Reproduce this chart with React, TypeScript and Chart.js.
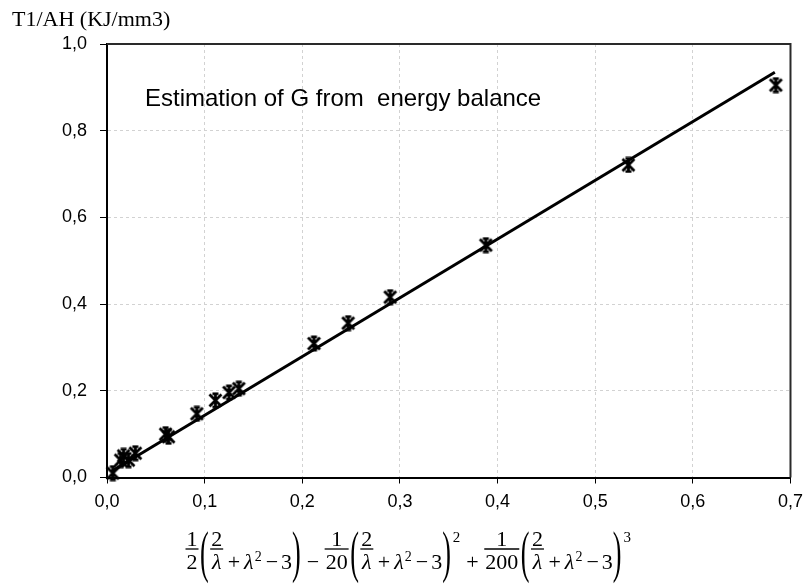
import { useEffect, useRef } from "react";
import { Chart, registerables } from "chart.js";

Chart.register(...registerables);

// Measured points: energy term (x) vs T1/AH (y)
const energyTerm = [0.006, 0.014, 0.017, 0.022, 0.029, 0.060, 0.063, 0.092, 0.111, 0.125, 0.135, 0.212, 0.247, 0.290, 0.388, 0.534, 0.685];
const workPerVolume = [0.010, 0.040, 0.050, 0.040, 0.056, 0.100, 0.094, 0.147, 0.178, 0.196, 0.205, 0.309, 0.356, 0.416, 0.536, 0.721, 0.905];

// Straight-line fit, end points
const fitX = [0.006, 0.684];
const fitY = [0.016, 0.935];

const xTicks = [0, 0.1, 0.2, 0.3, 0.4, 0.5, 0.6, 0.7];
const yTicks = [0, 0.2, 0.4, 0.6, 0.8, 1.0];

const yAxisTitle = "T1/AH (KJ/mm3)";
const noteText = "Estimation of G from  energy balance";

const SANS = "'Liberation Sans', Arial, sans-serif";
const SERIF = "'Liberation Serif', 'Times New Roman', serif";

const fmt = (v: number) => v.toFixed(1).replace(".", ",");

// Asterisk marker: X, vertical stroke and short caps
function makeStar(): HTMLCanvasElement {
  const c = document.createElement("canvas");
  c.width = 17;
  c.height = 17;
  const g = c.getContext("2d")!;
  g.strokeStyle = "#000";
  g.lineWidth = 2.8;
  g.beginPath();
  g.moveTo(2.5, 2.5);
  g.lineTo(14.5, 14.5);
  g.moveTo(14.5, 2.5);
  g.lineTo(2.5, 14.5);
  g.moveTo(8.5, 1);
  g.lineTo(8.5, 16);
  g.moveTo(5.5, 1.8);
  g.lineTo(11.5, 1.8);
  g.moveTo(5.5, 15.2);
  g.lineTo(11.5, 15.2);
  g.stroke();
  return c;
}

type Tok =
  | { k: "frac"; n: string; d: string; dIt?: boolean }
  | { k: "txt"; s: string; it?: boolean }
  | { k: "sup"; s: string; size: number; rise: number }
  | { k: "open" }
  | { k: "close" }
  | { k: "gap"; w: number };

const group: Tok[] = [
  { k: "open" },
  { k: "frac", n: "2", d: "λ", dIt: true },
  { k: "gap", w: 3 },
  { k: "txt", s: "+" },
  { k: "gap", w: 4 },
  { k: "txt", s: "λ", it: true },
  { k: "sup", s: "2", size: 14, rise: 8 },
  { k: "gap", w: 3 },
  { k: "txt", s: "−" },
  { k: "gap", w: 3 },
  { k: "txt", s: "3" },
  { k: "close" },
];

const formula: Tok[] = [
  { k: "frac", n: "1", d: "2" },
  ...group,
  { k: "gap", w: 5 },
  { k: "txt", s: "−" },
  { k: "gap", w: 5 },
  { k: "frac", n: "1", d: "20" },
  ...group,
  { k: "sup", s: "2", size: 15, rise: 27 },
  { k: "gap", w: 5 },
  { k: "txt", s: "+" },
  { k: "gap", w: 5 },
  { k: "frac", n: "1", d: "200" },
  ...group,
  { k: "sup", s: "3", size: 15, rise: 27 },
];

function drawFormula(ctx: CanvasRenderingContext2D, startX: number, base: number) {
  const size = 22;
  const font = (it: boolean, s: number) => `${it ? "italic " : ""}${s}px ${SERIF}`;
  const barY = base - 20;
  let x = startX;
  ctx.save();
  ctx.fillStyle = "#000";
  ctx.strokeStyle = "#000";
  ctx.textBaseline = "alphabetic";
  for (const t of formula) {
    if (t.k === "gap") {
      x += t.w;
    } else if (t.k === "txt") {
      ctx.font = font(!!t.it, size);
      ctx.textAlign = "left";
      ctx.fillText(t.s, x, base);
      x += ctx.measureText(t.s).width;
    } else if (t.k === "sup") {
      ctx.font = font(false, t.size);
      ctx.textAlign = "left";
      ctx.fillText(t.s, x + 1, base - t.rise);
      x += ctx.measureText(t.s).width + 2;
    } else if (t.k === "frac") {
      ctx.font = font(false, size);
      const wn = ctx.measureText(t.n).width;
      ctx.font = font(!!t.dIt, size);
      const wd = ctx.measureText(t.d).width;
      const w = Math.max(wn, wd) + 3;
      const cx = x + w / 2;
      ctx.textAlign = "center";
      ctx.font = font(false, size);
      ctx.fillText(t.n, cx, barY - 3);
      ctx.font = font(!!t.dIt, size);
      ctx.fillText(t.d, cx, base);
      ctx.lineWidth = 1.3;
      ctx.beginPath();
      ctx.moveTo(x + 0.5, barY);
      ctx.lineTo(x + w - 0.5, barY);
      ctx.stroke();
      x += w + 1;
    } else {
      const ch = t.k === "open" ? "(" : ")";
      ctx.save();
      ctx.font = `58px ${SERIF}`;
      ctx.textAlign = "left";
      ctx.translate(x, base + 2);
      ctx.scale(0.45, 1);
      ctx.fillText(ch, 0, 0);
      const w = ctx.measureText(ch).width * 0.45;
      ctx.restore();
      x += w + 1;
    }
  }
  ctx.restore();
}

const decorations = {
  id: "decorations",
  afterDraw(chart: Chart) {
    const { ctx, chartArea } = chart;
    ctx.save();
    // upper and right frame of the plot box
    ctx.strokeStyle = "#2a2a2a";
    ctx.lineWidth = 2;
    ctx.beginPath();
    ctx.moveTo(chartArea.left, chartArea.top);
    ctx.lineTo(chartArea.right, chartArea.top);
    ctx.lineTo(chartArea.right, chartArea.bottom);
    ctx.stroke();

    ctx.fillStyle = "#000";
    ctx.textAlign = "left";
    ctx.textBaseline = "alphabetic";
    ctx.font = `22px ${SERIF}`;
    ctx.fillText(yAxisTitle, 12, 26);

    ctx.font = `24px ${SANS}`;
    ctx.fillText(noteText, 145, 106);
    ctx.restore();

    drawFormula(ctx, 185, 569);
  },
};

export default function App() {
  const ref = useRef<HTMLCanvasElement | null>(null);

  useEffect(() => {
    if (!ref.current) return;
    const star = makeStar();
    const tickFont = { family: SANS, size: 18 };
    const chart = new Chart(ref.current, {
      type: "scatter",
      data: {
        datasets: [
          {
            label: "measured",
            data: energyTerm.map((x, i) => ({ x, y: workPerVolume[i] })),
            pointStyle: star as any,
            pointRadius: 8,
            showLine: false,
            clip: false as any,
          },
          {
            label: "fit",
            data: fitX.map((x, i) => ({ x, y: fitY[i] })),
            showLine: true,
            borderColor: "#000",
            borderWidth: 3,
            pointRadius: 0,
            fill: false,
          },
        ],
      },
      options: {
        animation: false,
        responsive: false,
        devicePixelRatio: 1,
        layout: { padding: { left: 0, right: 18, top: 44, bottom: 0 } },
        plugins: {
          legend: { display: false },
          tooltip: { enabled: false },
        },
        scales: {
          x: {
            type: "linear",
            min: 0,
            max: 0.7,
            afterBuildTicks: (s: any) => {
              s.ticks = xTicks.map((value) => ({ value }));
            },
            afterFit: (s: any) => {
              s.height = 107.5;
            },
            ticks: {
              callback: (v: any) => fmt(Number(v)),
              font: tickFont,
              color: "#000",
              padding: 8,
              maxRotation: 0,
              autoSkip: false,
            },
            grid: {
              color: "#d2d2d2",
              lineWidth: 1,
              tickLength: 6,
              tickColor: "#000",
              tickWidth: 1,
              tickBorderDash: [],
            },
            border: { display: true, color: "#000", width: 2, dash: [3, 3] },
          },
          y: {
            type: "linear",
            min: 0,
            max: 1,
            afterBuildTicks: (s: any) => {
              s.ticks = yTicks.map((value) => ({ value }));
            },
            afterFit: (s: any) => {
              s.width = 107;
            },
            ticks: {
              callback: (v: any) => fmt(Number(v)),
              font: tickFont,
              color: "#000",
              padding: 13,
              autoSkip: false,
            },
            grid: {
              color: "#d2d2d2",
              lineWidth: 1,
              tickLength: 7,
              tickColor: "#000",
              tickWidth: 1,
              tickBorderDash: [],
            },
            border: { display: true, color: "#000", width: 2, dash: [3, 3] },
          },
        },
      },
      plugins: [decorations],
    });
    return () => chart.destroy();
  }, []);

  return (
    <div style={{ position: "absolute", left: 0, top: 0, width: 811, height: 585, background: "#fff" }}>
      <canvas ref={ref} width={811} height={585} style={{ display: "block" }} />
    </div>
  );
}
